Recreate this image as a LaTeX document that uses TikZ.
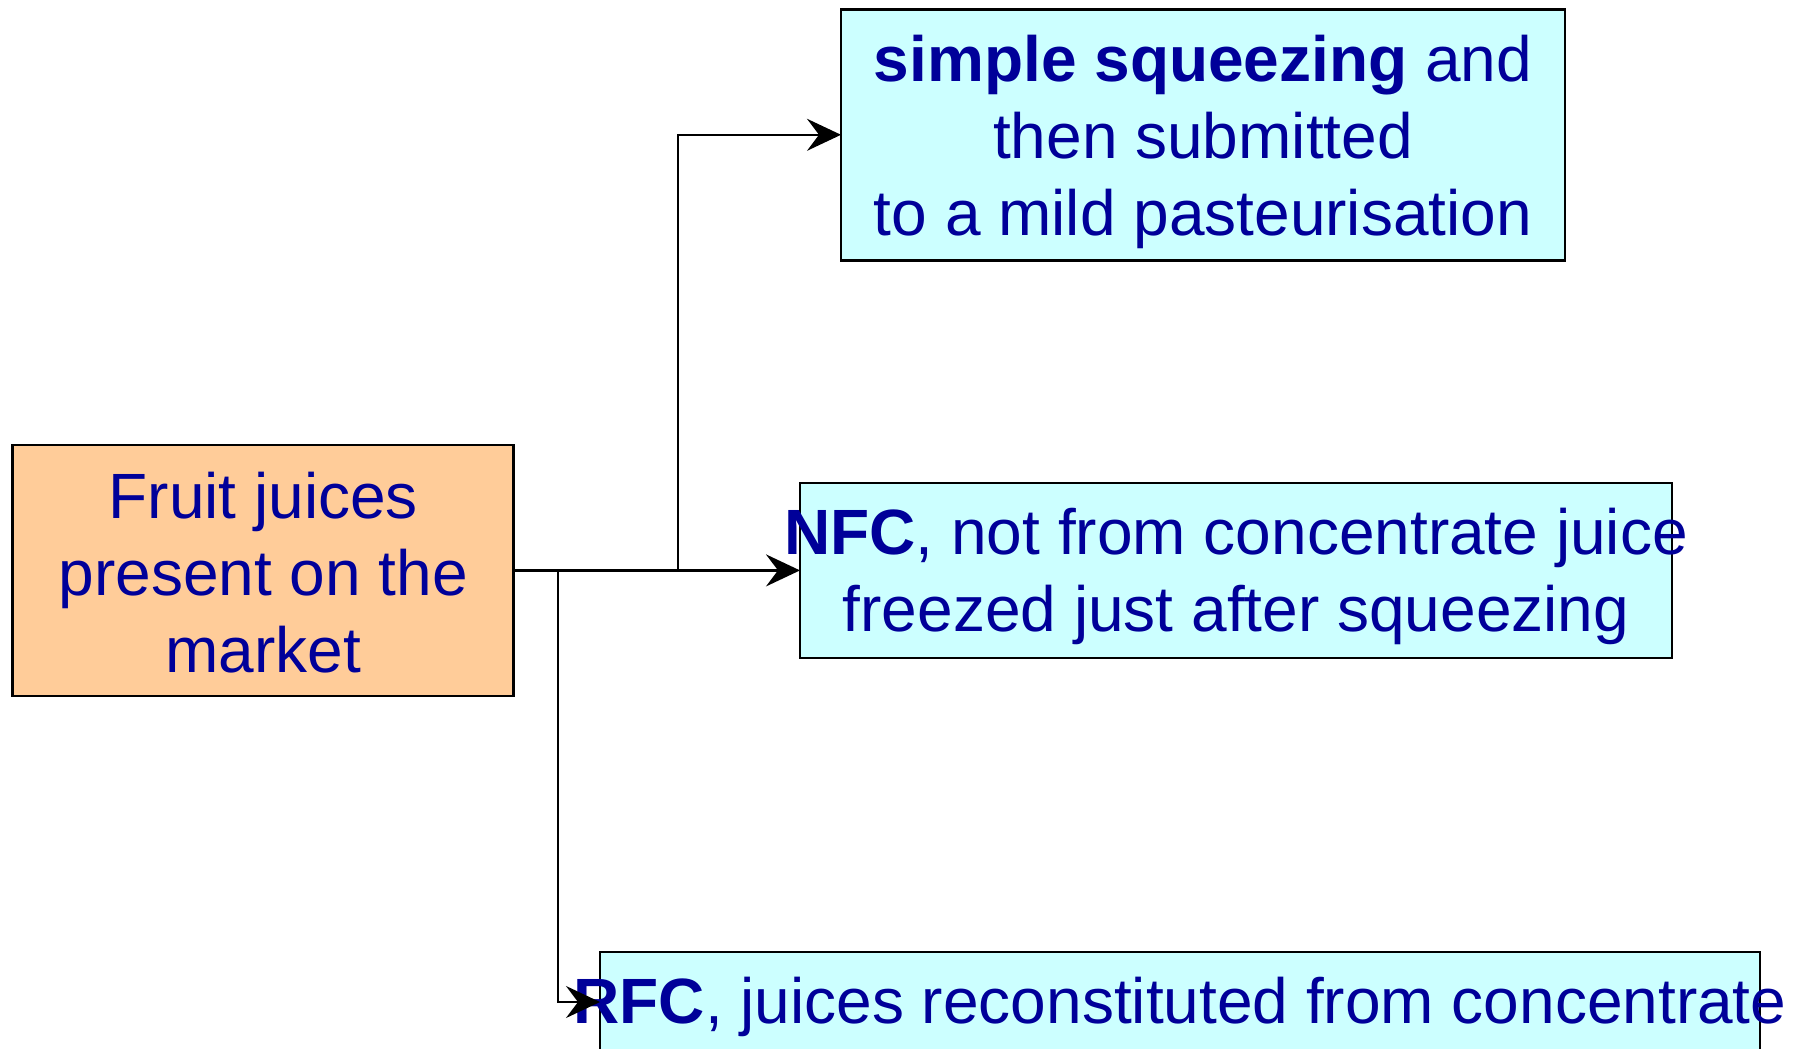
\documentclass[tikz,border=0pt]{standalone}
\usepackage{fontspec}
\setmainfont{Liberation Sans}
\usetikzlibrary{arrows.meta}
\definecolor{txtblue}{RGB}{0,0,153}
\definecolor{boxcyan}{RGB}{204,255,255}
\definecolor{boxorange}{RGB}{255,204,153}
\begin{document}
\begin{tikzpicture}[x=0.5pt,y=-0.5pt,
  box/.style={draw=black, line width=1.4pt, inner sep=0pt, outer sep=0pt, rectangle},
  txt/.style={text=txtblue, align=center, font=\fontsize{32}{38.5}\selectfont, inner sep=0pt},
  conn/.style={draw=black, line width=1.1pt},
  arr/.style={conn, -{Stealth[length=17pt,width=16pt,inset=6pt]}}]
\useasboundingbox (0,0) rectangle (1807,1048);
% boxes
\node[box, fill=boxorange, minimum width=250.5pt, minimum height=125.5pt] (src) at (263.3,570.4) {};
\node[box, fill=boxcyan, minimum width=362pt, minimum height=125.5pt] (t1) at (1203,134.8) {};
\node[box, fill=boxcyan, minimum width=436pt, minimum height=87.5pt] (t2) at (1236,570.4) {};
\node[box, fill=boxcyan, minimum width=580pt, minimum height=50pt] (t3) at (1180,1002) {};
% texts
\node[txt] (srctxt) at (263.3,572.5) {Fruit juices\\present on the\\market};
\node[txt] (t1txt) at (1203,141.5) {\textbf{simple squeezing} and\\then submitted\\to a mild pasteurisation};
\node[txt] (t2txt) at (1236,576.5) {\textbf{NFC}, not from concentrate juice\\freezed just after squeezing};
\node[txt] (t3txt) at (1180,1007) {\textbf{RFC}, juices reconstituted from concentrate};
% connectors
\coordinate (j1) at (678,570.4);
\coordinate (j2) at (657,570.4);
\coordinate (j3) at (558,570.4);
\draw[conn, line width=1.5pt] (src.east) -- (j1);
\draw[arr] (j1) |- (t1.west);
\draw[arr] (j2) -- (t2.west);
\draw[arr] (j3) |- (t3.west);
\end{tikzpicture}
\end{document}
